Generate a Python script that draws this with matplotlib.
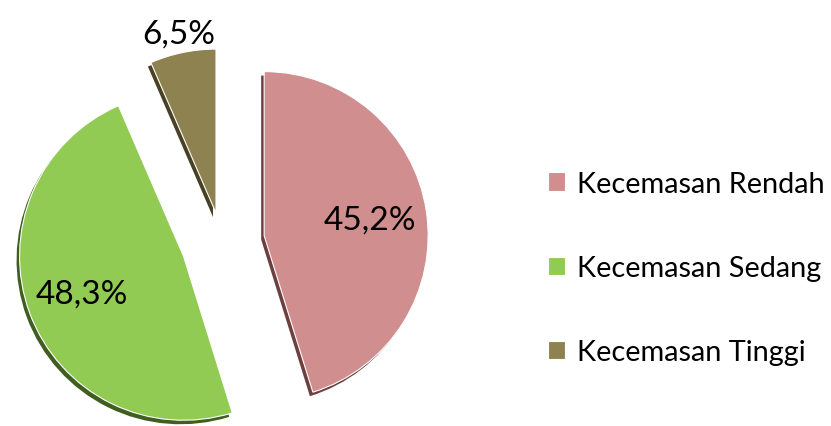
import numpy as np
import matplotlib.pyplot as plt

# anxiety level shares (%)
labels = ["Kecemasan Rendah", "Kecemasan Sedang", "Kecemasan Tinggi"]
values = [45.2, 48.3, 6.5]
colors = ["#D08E8E", "#92CB53", "#8E8350"]
shade = ["#6E3F3F", "#3F5E1F", "#4A4125"]
explode = [0.26, 0.25, 0.18]
label_dist = [0.65, 0.66, 1.12]

fig = plt.figure(figsize=(8.31, 4.27), dpi=100)
ax = fig.add_axes([0, 0, 1, 1])

R = 164
cx, cy = 222, 184
offsets = [e * R for e in explode]  # pie explode is in data units here

# dark copy underneath gives the slices a bit of depth
ax.pie(values, colors=shade, explode=offsets, startangle=90, counterclock=False,
       radius=R, center=(cx - 3, cy - 4), wedgeprops=dict(linewidth=0))
wedges, _ = ax.pie(values, colors=colors, explode=offsets, startangle=90,
                   counterclock=False, radius=R, center=(cx, cy),
                   wedgeprops=dict(edgecolor="white", linewidth=0.8))

for w, v, d, e in zip(wedges, values, label_dist, explode):
    mid = np.deg2rad((w.theta1 + w.theta2) / 2)
    x = cx + R * (e + d) * np.cos(mid)
    y = cy + R * (e + d) * np.sin(mid)
    ax.text(x, y, f"{v:.1f}%".replace(".", ","), ha="center", va="center",
            fontsize=24, family="Lato", color="black")

ax.legend(wedges, labels, loc="center left", bbox_to_anchor=(0.628, 0.37),
          frameon=False, prop=dict(family="Lato", size=20.8),
          handlelength=0.6, handleheight=0.6, handletextpad=0.4, labelspacing=2.02)

ax.set_xlim(0, 831)
ax.set_ylim(0, 427)
ax.set_aspect("equal")
ax.axis("off")

fig.savefig("out.png", dpi=100)
